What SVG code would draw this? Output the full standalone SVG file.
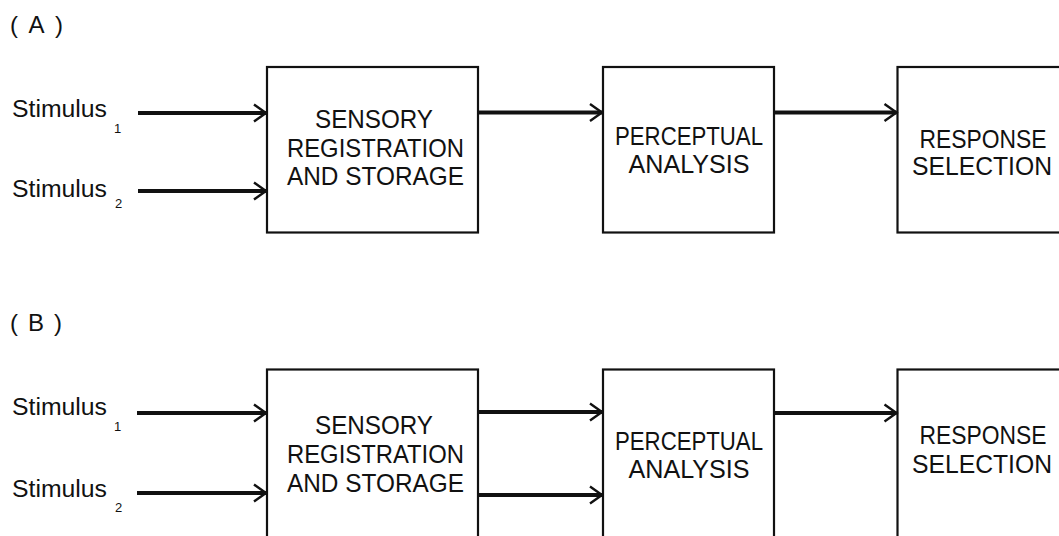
<svg xmlns="http://www.w3.org/2000/svg" width="1059" height="536" viewBox="0 0 1059 536">
<defs>
<style>
.box{fill:#fff;stroke:#111;stroke-width:2.2}
.t{font-family:"Liberation Sans",Arial,sans-serif;font-size:25px;fill:#111;text-anchor:middle}
.lab{font-family:"Liberation Sans",Arial,sans-serif;font-size:23px;fill:#111}
.sub{font-family:"Liberation Sans",Arial,sans-serif;font-size:13px;fill:#111}
.hd{font-family:"Liberation Sans",Arial,sans-serif;font-size:24px;fill:#111}
.ln{stroke:#111;stroke-width:4;fill:none}
</style>
<marker id="ah" markerUnits="userSpaceOnUse" markerWidth="20" markerHeight="20" refX="14" refY="10" orient="auto">
<path d="M2,1.5 L14,10 L2,18.5" fill="none" stroke="#111" stroke-width="2.4"/>
</marker>
</defs>
<rect width="1059" height="536" fill="#fff"/>
<text class="hd" x="10" y="33" textLength="53" lengthAdjust="spacing">( A )</text>
<text class="hd" x="10" y="331" textLength="52" lengthAdjust="spacing">( B )</text>

<g id="stimA1"><text class="lab" x="12" y="117" textLength="95" lengthAdjust="spacingAndGlyphs">Stimulus</text><text class="sub" x="114" y="133">1</text></g>
<g id="stimA2"><text class="lab" x="12" y="197" textLength="95" lengthAdjust="spacingAndGlyphs">Stimulus</text><text class="sub" x="115" y="208">2</text></g>
<g id="stimB1"><text class="lab" x="12" y="415" textLength="95" lengthAdjust="spacingAndGlyphs">Stimulus</text><text class="sub" x="114" y="431">1</text></g>
<g id="stimB2"><text class="lab" x="12" y="497" textLength="95" lengthAdjust="spacingAndGlyphs">Stimulus</text><text class="sub" x="115" y="512">2</text></g>

<g id="A_sensory"><rect class="box" x="267" y="67" width="211" height="165.5"/>
<text class="t" x="374" y="128" textLength="118" lengthAdjust="spacingAndGlyphs">SENSORY</text><text class="t" x="375.5" y="157" textLength="177" lengthAdjust="spacingAndGlyphs">REGISTRATION</text><text class="t" x="375.5" y="185" textLength="177" lengthAdjust="spacingAndGlyphs">AND STORAGE</text></g>
<g id="A_perceptual"><rect class="box" x="603" y="67" width="171" height="165.5"/>
<text class="t" x="689" y="145" textLength="148" lengthAdjust="spacingAndGlyphs">PERCEPTUAL</text><text class="t" x="689" y="173" textLength="121" lengthAdjust="spacingAndGlyphs">ANALYSIS</text></g>
<g id="A_response"><rect class="box" x="897.5" y="67" width="200" height="165.5"/>
<text class="t" x="983" y="148" textLength="127" lengthAdjust="spacingAndGlyphs">RESPONSE</text><text class="t" x="982" y="175" textLength="140" lengthAdjust="spacingAndGlyphs">SELECTION</text></g>

<g id="B_sensory"><rect class="box" x="267" y="369.5" width="211" height="200"/>
<text class="t" x="374" y="434" textLength="118" lengthAdjust="spacingAndGlyphs">SENSORY</text><text class="t" x="375.5" y="463" textLength="177" lengthAdjust="spacingAndGlyphs">REGISTRATION</text><text class="t" x="375.5" y="492" textLength="177" lengthAdjust="spacingAndGlyphs">AND STORAGE</text></g>
<g id="B_perceptual"><rect class="box" x="603" y="369.5" width="171" height="200"/>
<text class="t" x="689" y="450" textLength="148" lengthAdjust="spacingAndGlyphs">PERCEPTUAL</text><text class="t" x="689" y="478" textLength="121" lengthAdjust="spacingAndGlyphs">ANALYSIS</text></g>
<g id="B_response"><rect class="box" x="897.5" y="369.5" width="200" height="200"/>
<text class="t" x="983" y="444" textLength="127" lengthAdjust="spacingAndGlyphs">RESPONSE</text><text class="t" x="982" y="473" textLength="140" lengthAdjust="spacingAndGlyphs">SELECTION</text></g>

<g id="connectors">
<line class="ln" x1="138" y1="113" x2="266" y2="113" marker-end="url(#ah)"/>
<line class="ln" x1="138" y1="191" x2="266" y2="191" marker-end="url(#ah)"/>
<line class="ln" x1="478" y1="112.5" x2="602" y2="112.5" marker-end="url(#ah)"/>
<line class="ln" x1="774" y1="112.5" x2="896.5" y2="112.5" marker-end="url(#ah)"/>
<line class="ln" x1="137" y1="413" x2="266" y2="413" marker-end="url(#ah)"/>
<line class="ln" x1="137" y1="493" x2="266" y2="493" marker-end="url(#ah)"/>
<line class="ln" x1="478" y1="412" x2="602" y2="412" marker-end="url(#ah)"/>
<line class="ln" x1="478" y1="495" x2="602" y2="495" marker-end="url(#ah)"/>
<line class="ln" x1="774" y1="413" x2="896.5" y2="413" marker-end="url(#ah)"/>
</g>
</svg>
